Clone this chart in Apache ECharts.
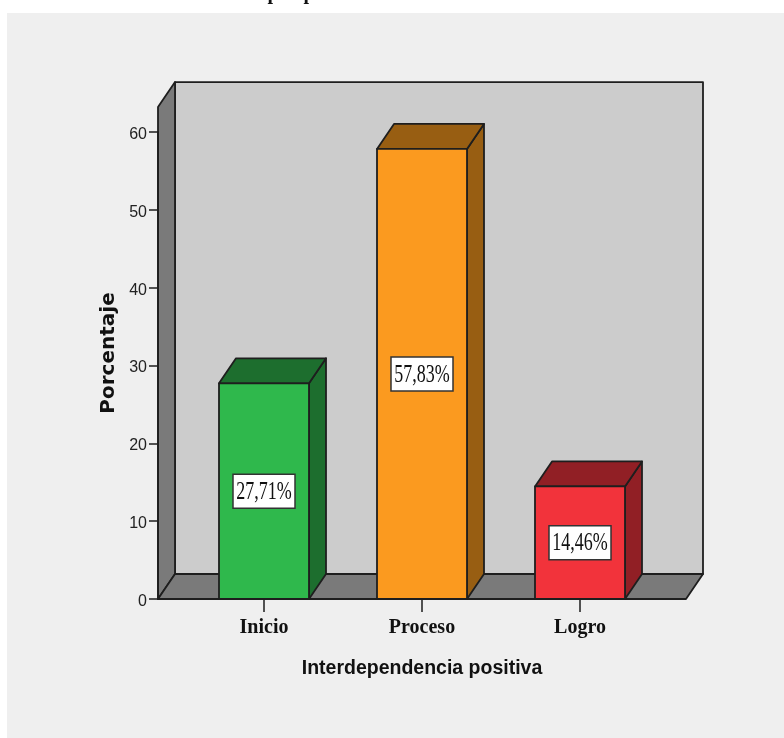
<!DOCTYPE html>
<html><head><meta charset="utf-8">
<style>html,body{margin:0;padding:0;background:#fff}#c{width:784px;height:738px}</style>
<script src="https://cdn.jsdelivr.net/npm/echarts@6/dist/echarts.min.js"></script>
</head><body><div id="c"></div>
<script>
const categories = ['Inicio', 'Proceso', 'Logro'];
const percentages = [27.71, 57.83, 14.46];
const valueTicks = [0, 10, 20, 30, 40, 50, 60];
const faceColors = ['#2fb84c', '#fb9a1f', '#f2333b'];
const shadeColors = ['#1d6e2e', '#985e12', '#911f25'];
const xTitle = 'Interdependencia positiva';
const yTitle = 'Porcentaje';

const DX = 17, DY = -25, SIDE = 27, WALL_TOP = 63.2, BAR_W = 90;
const LINE = '#1e1e1e';

const chart = echarts.init(document.getElementById('c'), null, {renderer: 'canvas'});
function poly(points, fill, z2) {
  return {type: 'polygon', shape: {points}, z2: z2 || 0,
    style: {fill, stroke: LINE, lineWidth: 1.8, lineJoin: 'round'}};
}
function renderWalls(params, api) {
  const cs = params.coordSys;
  const l = cs.x - SIDE, r = cs.x + cs.width + SIDE;
  const b = api.coord([0, 0])[1], t = api.coord([0, WALL_TOP])[1];
  return {type: 'group', children: [
    poly([[l+DX,t+DY],[r+DX,t+DY],[r+DX,b+DY],[l+DX,b+DY]], '#cccccc'),
    poly([[l,t],[l+DX,t+DY],[l+DX,b+DY],[l,b]], '#7a7a7a'),
    poly([[l,b],[l+DX,b+DY],[r+DX,b+DY],[r,b]], '#7a7a7a')
  ]};
}
function renderBar(params, api) {
  const i = params.dataIndex;
  const v = api.value(1);
  const [cx, top] = api.coord([api.value(0), v]);
  const base = api.coord([api.value(0), 0])[1];
  const x0 = cx - BAR_W/2, x1 = cx + BAR_W/2;
  const my = (top + base)/2;
  const label = v.toFixed(2).replace('.', ',') + '%';
  return {type: 'group', children: [
    poly([[x1,base],[x1,top],[x1+DX,top+DY],[x1+DX,base+DY]], shadeColors[i]),
    poly([[x0,top],[x0+DX,top+DY],[x1+DX,top+DY],[x1,top]], shadeColors[i]),
    poly([[x0,top],[x1,top],[x1,base],[x0,base]], faceColors[i]),
    {type: 'rect', shape: {x: cx-31, y: my-17, width: 62, height: 34}, z2: 5,
      style: {fill: '#fff', stroke: '#333', lineWidth: 1.5}},
    {type: 'text', x: cx, y: my + 1, scaleX: 0.72, z2: 6,
      style: {text: label, fill: '#111', align: 'center', verticalAlign: 'middle',
        font: '25px "Liberation Serif"'}}
  ]};
}
chart.setOption({
  animation: false,
  backgroundColor: '#fff',
  graphic: [
    {type: 'rect', z: -10, shape: {x: 7, y: 13, width: 777, height: 725}, style: {fill: '#efefef'}},
    {type: 'text', z: -5, x: 273, y: -16.5, style: {text: 'p', fill: '#111', font: 'bold 20px "Liberation Serif"', align: 'center'}},
    {type: 'text', z: -5, x: 309, y: -16.5, style: {text: 'p', fill: '#111', font: 'bold 20px "Liberation Serif"', align: 'center'}}
  ],
  grid: {left: 185, width: 474, top: 132, height: 467},
  xAxis: {type: 'category', data: categories, z: 5,
    axisLine: {show: false},
    axisTick: {show: true, alignWithLabel: true, length: 13, lineStyle: {color: LINE, width: 1.5}},
    axisLabel: {margin: 19, color: '#111', fontFamily: 'Liberation Serif', fontWeight: 'bold', fontSize: 20},
    name: xTitle, nameLocation: 'middle', nameGap: 60,
    nameTextStyle: {fontFamily: 'Liberation Sans', fontWeight: 'bold', fontSize: 19.5, color: '#111'}},
  yAxis: {type: 'value', min: valueTicks[0], max: valueTicks[valueTicks.length-1], interval: valueTicks[1]-valueTicks[0],
    offset: SIDE, z: 5,
    axisLine: {show: true, lineStyle: {color: LINE, width: 1.8}},
    axisTick: {show: true, length: 9, lineStyle: {color: LINE, width: 1.5}},
    axisLabel: {margin: 11, color: '#222', fontFamily: 'Liberation Sans', fontSize: 16, verticalAlign: 'top', lineHeight: 5},
    splitLine: {show: false},
    name: yTitle, nameLocation: 'middle', nameGap: 36,
    nameTextStyle: {fontFamily: 'DejaVu Sans', fontWeight: 'bold', fontSize: 20, color: '#111', padding: [0, 0, 0, 25]}},
  series: [
    {type: 'custom', z: 1, silent: true, renderItem: renderWalls, data: [[0, 0]], encode: {x: 0, y: 1}},
    {type: 'custom', z: 2, silent: true, renderItem: renderBar,
      data: percentages.map((p, i) => [i, p]), encode: {x: 0, y: 1}}
  ]
});
</script></body></html>
